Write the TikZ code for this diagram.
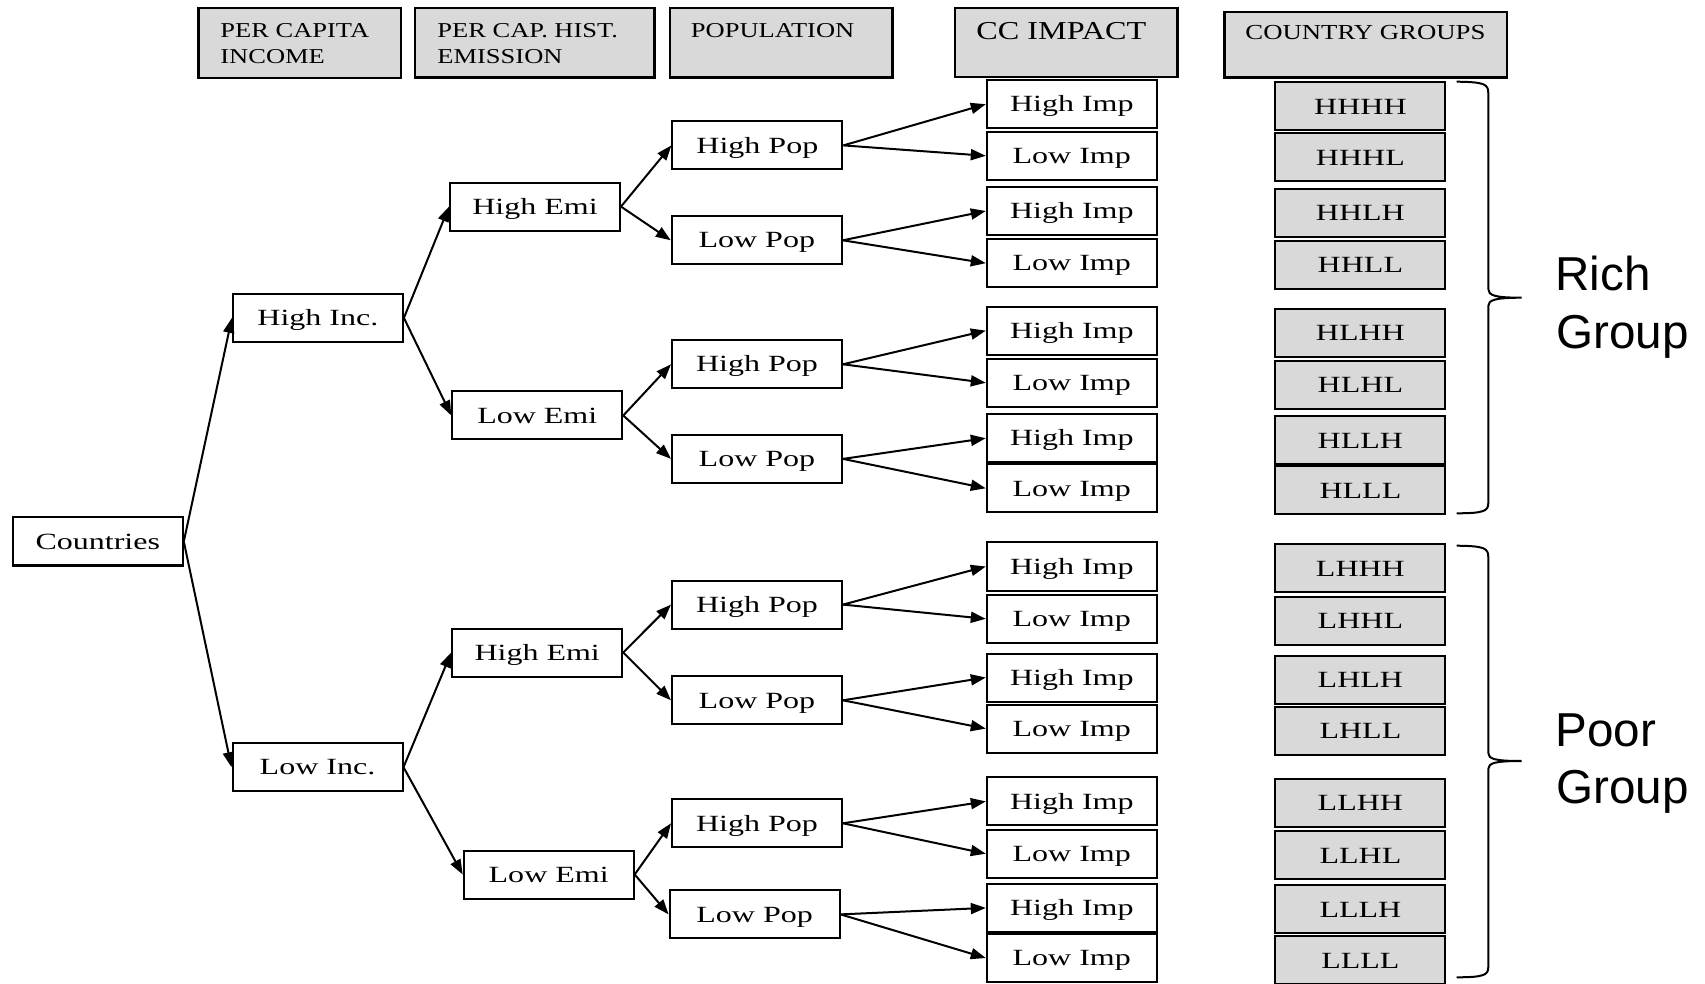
\documentclass[tikz,border=0pt]{standalone}
\usepackage{fontspec}
\setmainfont{Liberation Serif}
\newfontfamily\boxfont[FakeStretch=1.38]{Liberation Serif}
\newfontfamily\hdrfont[FakeStretch=1.25]{Liberation Serif}
\newfontfamily\grpfont{Liberation Sans}
\usetikzlibrary{arrows.meta}
\definecolor{boxgray}{RGB}{217,217,217}
\tikzset{
  tbox/.style={draw=black, line width=1pt, fill=white, minimum width=85pt, minimum height=24pt,
    inner sep=0pt, font=\boxfont\fontsize{11.6}{13}\selectfont, text height=7.7pt, text depth=0pt},
  gbox/.style={tbox, fill=boxgray},
  hdrbox/.style={draw=black, line width=1.2pt, fill=boxgray, inner sep=0pt},
  hdrtext/.style={anchor=base west, inner sep=0pt, font=\hdrfont\fontsize{10.6}{12}\selectfont},
  conn/.style={line width=1pt, -{Triangle[length=7.5pt,width=5.5pt]}},
  bracepath/.style={line width=1pt},
  grouptext/.style={anchor=base west, inner sep=0pt, font=\grpfont\fontsize{23.8}{28}\selectfont},
}
\begin{document}
\begin{tikzpicture}[x=0.5pt,y=-0.5pt]
\fill[white] (0,0) rectangle (1705,984);
\useasboundingbox (0,0) rectangle (1705,984);

% header boxes
\node[hdrbox, minimum width=101.2pt, minimum height=35pt] (h1) at (299.5,43.3) {};
\node[hdrbox, minimum width=119.7pt, minimum height=34.7pt] (h2) at (534.7,43) {};
\node[hdrbox, minimum width=111.3pt, minimum height=34.7pt] (h3) at (781.3,43) {};
\node[hdrbox, minimum width=111.2pt, minimum height=34.5pt] (h4) at (1066.2,42.8) {};
\node[hdrbox, minimum width=141.2pt, minimum height=32.7pt] (h5) at (1365.6,45) {};
\node[hdrtext] (t1a) at (220,37.3) {PER CAPITA};
\node[hdrtext] (t1b) at (220,64) {INCOME};
\node[hdrtext] (t2a) at (437,37.3) {PER CAP. HIST.};
\node[hdrtext] (t2b) at (437,64) {EMISSION};
\node[hdrtext] (t3) at (690.5,37.3) {POPULATION};
\node[hdrtext, font=\hdrfont\fontsize{12.9}{14}\selectfont] (t4) at (976,39.5) {CC IMPACT};
\node[hdrtext, font=\hdrfont\fontsize{10.7}{12}\selectfont] (t5) at (1245,39.3) {COUNTRY GROUPS};

% tree
\node[tbox] (c) at (97.8,541.5) {Countries};
\node[tbox] (hi) at (317.9,317.9) {High Inc.};
\node[tbox] (li) at (317.5,767.2) {Low Inc.};
\node[tbox] (he1) at (535,206.6) {High Emi};
\node[tbox] (le1) at (537.3,415.5) {Low Emi};
\node[tbox] (he2) at (537.2,652.5) {High Emi};
\node[tbox] (le2) at (548.7,874.5) {Low Emi};
\node[tbox] (hp1) at (757.4,145.4) {High Pop};
\node[tbox] (lp1) at (756.8,240.3) {Low Pop};
\node[tbox] (hp2) at (757,364.3) {High Pop};
\node[tbox] (lp2) at (757,458.9) {Low Pop};
\node[tbox] (hp3) at (757,604.6) {High Pop};
\node[tbox] (lp3) at (757,700.3) {Low Pop};
\node[tbox] (hp4) at (757,823.3) {High Pop};
\node[tbox] (lp4) at (754.6,914.4) {Low Pop};

\node[tbox] (i1) at (1071.8,104.2) {High Imp};
\node[tbox] (i2) at (1071.8,155.8) {Low Imp};
\node[tbox] (i3) at (1071.8,211) {High Imp};
\node[tbox] (i4) at (1071.8,263.2) {Low Imp};
\node[tbox] (i5) at (1071.8,330.6) {High Imp};
\node[tbox] (i6) at (1071.8,382.8) {Low Imp};
\node[tbox] (i7) at (1071.8,438.2) {High Imp};
\node[tbox] (i8) at (1071.8,488.3) {Low Imp};
\node[tbox] (i9) at (1071.8,566.5) {High Imp};
\node[tbox] (i10) at (1071.8,618.8) {Low Imp};
\node[tbox] (i11) at (1071.8,677.5) {High Imp};
\node[tbox] (i12) at (1071.8,728.6) {Low Imp};
\node[tbox] (i13) at (1071.8,801.4) {High Imp};
\node[tbox] (i14) at (1071.8,853.7) {Low Imp};
\node[tbox] (i15) at (1071.8,907.9) {High Imp};
\node[tbox] (i16) at (1071.8,958) {Low Imp};

\node[gbox] (g1) at (1360.4,106.5) {HHHH};
\node[gbox] (g2) at (1360.4,157.5) {HHHL};
\node[gbox] (g3) at (1360.4,213.2) {HHLH};
\node[gbox] (g4) at (1360.4,264.9) {HHLL};
\node[gbox] (g5) at (1360.4,332.7) {HLHH};
\node[gbox] (g6) at (1360.4,384.7) {HLHL};
\node[gbox] (g7) at (1360.4,440.4) {HLLH};
\node[gbox] (g8) at (1360.4,490.5) {HLLL};
\node[gbox] (g9) at (1360.4,568.3) {LHHH};
\node[gbox] (g10) at (1360.4,620.9) {LHHL};
\node[gbox] (g11) at (1360.4,679.5) {LHLH};
\node[gbox] (g12) at (1360.4,730.5) {LHLL};
\node[gbox] (g13) at (1360.4,803.2) {LLHH};
\node[gbox] (g14) at (1360.4,855.3) {LLHL};
\node[gbox] (g15) at (1360.4,909.3) {LLLH};
\node[gbox] (g16) at (1360.4,960.4) {LLLL};

% connectors
\draw[conn] (c.east) -- (hi.west);
\draw[conn] (c.east) -- (li.west);
\draw[conn] (hi.east) -- (he1.west);
\draw[conn] (hi.east) -- (le1.west);
\draw[conn] (li.east) -- (he2.west);
\draw[conn] (li.east) -- (le2.west);
\draw[conn] (he1.east) -- (hp1.west);
\draw[conn] (he1.east) -- (lp1.west);
\draw[conn] (le1.east) -- (hp2.west);
\draw[conn] (le1.east) -- (lp2.west);
\draw[conn] (he2.east) -- (hp3.west);
\draw[conn] (he2.east) -- (lp3.west);
\draw[conn] (le2.east) -- (hp4.west);
\draw[conn] (le2.east) -- (lp4.west);
\draw[conn] (hp1.east) -- (i1.west);
\draw[conn] (hp1.east) -- (i2.west);
\draw[conn] (lp1.east) -- (i3.west);
\draw[conn] (lp1.east) -- (i4.west);
\draw[conn] (hp2.east) -- (i5.west);
\draw[conn] (hp2.east) -- (i6.west);
\draw[conn] (lp2.east) -- (i7.west);
\draw[conn] (lp2.east) -- (i8.west);
\draw[conn] (hp3.east) -- (i9.west);
\draw[conn] (hp3.east) -- (i10.west);
\draw[conn] (lp3.east) -- (i11.west);
\draw[conn] (lp3.east) -- (i12.west);
\draw[conn] (hp4.east) -- (i13.west);
\draw[conn] (hp4.east) -- (i14.west);
\draw[conn] (lp4.east) -- (i15.west);
\draw[conn] (lp4.east) -- (i16.west);

% braces
\draw[bracepath] (1456.7,81.7) .. controls (1484,82) and (1488.3,84) .. (1488.3,93)
  -- (1488.3,289) .. controls (1488.3,295.5) and (1495,297.7) .. (1521.7,297.7)
  .. controls (1495,297.7) and (1488.3,300) .. (1488.3,306)
  -- (1488.3,503) .. controls (1488.3,511) and (1484,513.3) .. (1456.7,513.3);
\draw[bracepath] (1456.7,545.7) .. controls (1484,546) and (1488.3,548) .. (1488.3,557)
  -- (1488.3,753) .. controls (1488.3,759) and (1495,761) .. (1521.7,761)
  .. controls (1495,761) and (1488.3,763) .. (1488.3,769)
  -- (1488.3,967) .. controls (1488.3,975) and (1484,977.3) .. (1456.7,977.3);

\node[grouptext] (r1) at (1555,290.7) {Rich};
\node[grouptext] (r2) at (1556,348.3) {Group};
\node[grouptext] (p1) at (1555,746) {Poor};
\node[grouptext] (p2) at (1556,803.3) {Group};
\end{tikzpicture}
\end{document}
